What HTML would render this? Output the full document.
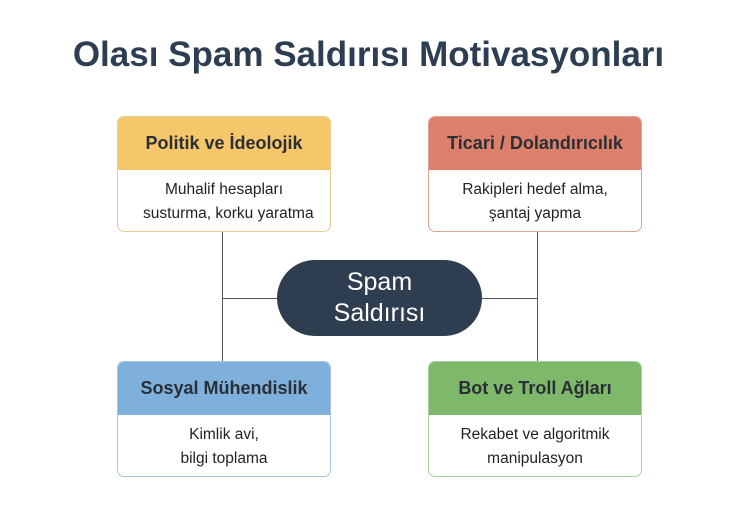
<!DOCTYPE html>
<html><head><meta charset="utf-8"><style>
body{margin:0;width:737px;height:508px;background:#fff;font-family:"Liberation Sans",sans-serif;position:relative;overflow:hidden}
.t{position:absolute;left:0;width:737px;top:35px;text-align:center;font-size:35px;font-weight:bold;color:#2e3e52}
.b{position:absolute;width:214px;height:116px;border:1px solid;border-radius:7px;overflow:hidden;box-sizing:border-box;background:#fff}
.h{height:53px;line-height:53px;text-align:center;font-size:18px;font-weight:bold;color:#2a2f36}
.d{text-align:center;font-size:15.5px;color:#222;line-height:24px;padding-top:8px}
.l{position:absolute;background:#555}
.p{position:absolute;left:277px;top:260px;width:205px;height:76px;border-radius:38px;background:#2e3d50;color:#fff;text-align:center;font-size:25px;line-height:31px;padding-top:7px;box-sizing:border-box}
</style></head><body>
<div class="t">Olası Spam Saldırısı Motivasyonları</div>
<div class="l" style="left:222px;top:232px;width:1px;height:129px"></div>
<div class="l" style="left:222px;top:298px;width:55px;height:1px"></div>
<div class="l" style="left:537px;top:232px;width:1px;height:129px"></div>
<div class="l" style="left:482px;top:298px;width:55px;height:1px"></div>
<div class="b" style="left:117px;top:116px;border-color:#e6cf94"><div class="h" style="background:#f5c76a">Politik ve İdeolojik</div><div class="d">Muhalif hesapları<br>&nbsp;&nbsp;susturma, korku yaratma</div></div>
<div class="b" style="left:428px;top:116px;border-color:#dea596"><div class="h" style="background:#dc806b">Ticari / Dolandırıcılık</div><div class="d">Rakipleri hedef alma,<br>şantaj yapma</div></div>
<div class="b" style="left:117px;top:361px;border-color:#a8c6e0"><div class="h" style="background:#7fb0dc">Sosyal Mühendislik</div><div class="d">Kimlik avi,<br>bilgi toplama</div></div>
<div class="b" style="left:428px;top:361px;border-color:#a9cf9e"><div class="h" style="background:#7db86b">Bot ve Troll Ağları</div><div class="d">Rekabet ve algoritmik<br>manipulasyon</div></div>
<div class="p">Spam<br>Saldırısı</div>
</body></html>
